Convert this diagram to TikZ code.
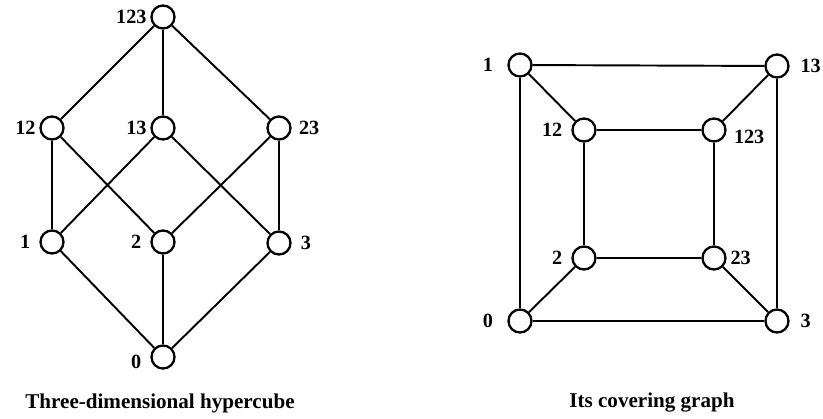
\documentclass[tikz,border=0pt]{standalone}
\usepackage{fontspec}
\setmainfont{Liberation Serif}
\usetikzlibrary{positioning}

\begin{document}
\begin{tikzpicture}[x=0.02cm, y=-0.02cm,
  vertex/.style={draw, circle, line width=1.3pt, minimum size=0.46cm, inner sep=0pt, fill=white},
  num/.style={font=\fontsize{11.5}{13}\selectfont\bfseries, inner sep=1pt},
  caption/.style={font=\fontsize{12}{14}\selectfont\bfseries},
  every label/.style={num},
  label distance=1pt]
\useasboundingbox (0,0) rectangle (823,419);

% Three-dimensional hypercube
\node[vertex, label={left:123}] (h123) at (163,17)  {};
\node[vertex, label={left:12}]  (h12)  at (52,128)  {};
\node[vertex, label={left:13}]  (h13)  at (163,128) {};
\node[vertex, label={[xshift=2pt]right:23}] (h23) at (279,128) {};
\node[vertex, label={[xshift=-3pt]left:1}]  (h1)  at (52,242)  {};
\node[vertex, label={[xshift=-3pt]left:2}]  (h2)  at (163,242) {};
\node[vertex, label={[xshift=3pt]right:3}]  (h3)  at (279,243) {};
\node[vertex, label={[xshift=-3pt, yshift=-3pt]left:0}] (h0) at (163,357) {};

\foreach \a/\b in {h123/h12, h123/h13, h123/h23, h12/h1, h12/h2, h13/h1, h13/h3,
                   h23/h2, h23/h3, h1/h0, h2/h0, h3/h0}
  \draw[line width=1.1pt] (\a) -- (\b);

\node[caption] (caph) at (160,403) {Three-dimensional hypercube};

% Its covering graph
\node[vertex, label={[xshift=-6pt]left:1}]  (c1)   at (520,65)  {};
\node[vertex, label={[xshift=4pt]right:13}] (c13)  at (777,66)  {};
\node[vertex, label={[xshift=-3pt]left:12}] (c12)  at (584,130) {};
\node[vertex, label={[xshift=2pt, yshift=-4pt]right:123}] (c123) at (714,130) {};
\node[vertex, label={[xshift=-3pt]left:2}]  (c2)   at (584,258) {};
\node[vertex, label={right:23}]             (c23)  at (714,258) {};
\node[vertex, label={[xshift=-6pt]left:0}]  (c0)   at (520,321) {};
\node[vertex, label={[xshift=4pt]right:3}]  (c3)   at (777,321) {};

\foreach \a/\b in {c1/c13, c1/c12, c13/c123, c12/c123, c1/c0, c12/c2, c123/c23,
                   c13/c3, c2/c23, c2/c0, c23/c3, c0/c3}
  \draw[line width=1.1pt] (\a) -- (\b);

\node[caption] (capc) at (652,403) {Its covering graph};
\end{tikzpicture}
\end{document}
